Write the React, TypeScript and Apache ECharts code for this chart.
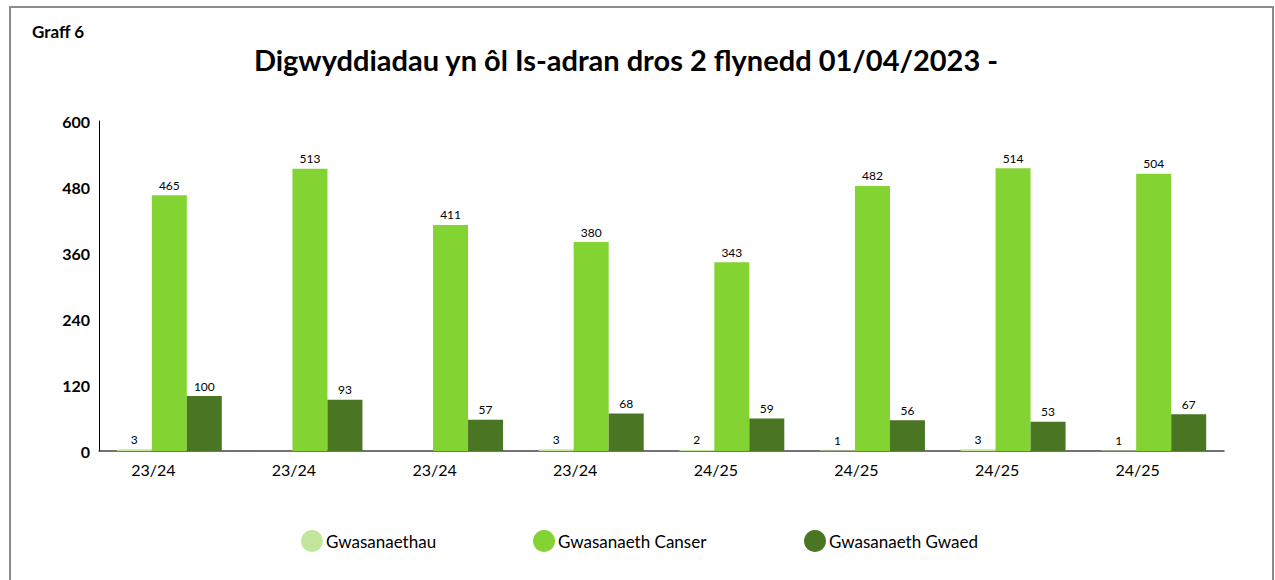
import React, { useEffect, useRef } from "react";
import * as echarts from "echarts";

const categories = ["23/24", "23/24", "23/24", "23/24", "24/25", "24/25", "24/25", "24/25"];
const gwasanaethau = [3, null, null, 3, 2, 1, 3, 1];
const canser = [465, 513, 411, 380, 343, 482, 514, 504];
const gwaed = [100, 93, 57, 68, 59, 56, 53, 67];
const seriesNames = ["Gwasanaethau", "Gwasanaeth Canser", "Gwasanaeth Gwaed"];
const colors = ["#c2e79c", "#83d332", "#4a7522"];
const yTicks = [0, 120, 240, 360, 480, 600];

const FONT = "'Gill Sans', Lato, sans-serif";

export default function App() {
  const ref = useRef<HTMLDivElement>(null);
  useEffect(() => {
    if (!ref.current) return;
    const chart = echarts.init(ref.current, undefined, { renderer: "svg" });
    const dataSets = [gwasanaethau, canser, gwaed];
    const legendLefts = [296, 528, 799];
    chart.setOption({
      animation: false,
      textStyle: { fontFamily: FONT },
      title: {
        text: "Digwyddiadau yn ôl Is-adran dros 2 flynedd 01/04/2023 -",
        left: 621,
        textAlign: "center",
        top: 40,
        textStyle: { fontFamily: FONT, fontSize: 29, fontWeight: "bold", color: "#000" },
      },
      graphic: [
        {
          type: "rect",
          shape: { x: 10, y: 7, width: 1263, height: 620 },
          style: { fill: "none", stroke: "#8c8c8c", lineWidth: 2 },
          silent: true,
        },
        {
          type: "text",
          left: 32,
          top: 23,
          style: { text: "Graff 6", font: `bold 17px ${FONT}`, fill: "#000" },
        },
      ],
      legend: seriesNames.map((n, i) => ({
        data: [n],
        left: legendLefts[i],
        top: 525,
        icon: "circle",
        itemWidth: 22,
        itemHeight: 22,
        itemGap: 0,
        textStyle: { fontFamily: FONT, fontSize: 17, color: "#000", padding: [0, 0, 0, -2] },
      })),
      grid: { left: 99, right: 51, top: 121, bottom: 129, containLabel: false },
      xAxis: {
        type: "category",
        data: categories,
        axisLine: { lineStyle: { color: "#444", width: 1.5 } },
        axisTick: { show: false },
        axisLabel: { color: "#000", fontSize: 16, fontFamily: FONT, margin: 10, padding: [0, 32, 0, 0] },
      },
      yAxis: {
        type: "value",
        min: yTicks[0],
        max: yTicks[yTicks.length - 1],
        interval: 120,
        splitLine: { show: false },
        axisLine: { show: true, lineStyle: { color: "#000", width: 1 } },
        axisTick: { show: false },
        axisLabel: { color: "#000", fontSize: 16, fontWeight: "bold", fontFamily: FONT, margin: 9 },
      },
      series: seriesNames.map((n, i) => ({
        name: n,
        type: "bar",
        data: dataSets[i],
        barWidth: 35,
        barGap: "0%",
        itemStyle: { color: colors[i] },
        label: {
          show: true,
          position: "top",
          distance: 4,
          color: "#000",
          fontSize: 12,
          fontFamily: FONT,
        },
      })),
    });
    return () => chart.dispose();
  }, []);
  return (
    <div
      ref={ref}
      style={{ position: "absolute", left: 0, top: 0, width: 1275, height: 580, background: "#fff" }}
    />
  );
}
